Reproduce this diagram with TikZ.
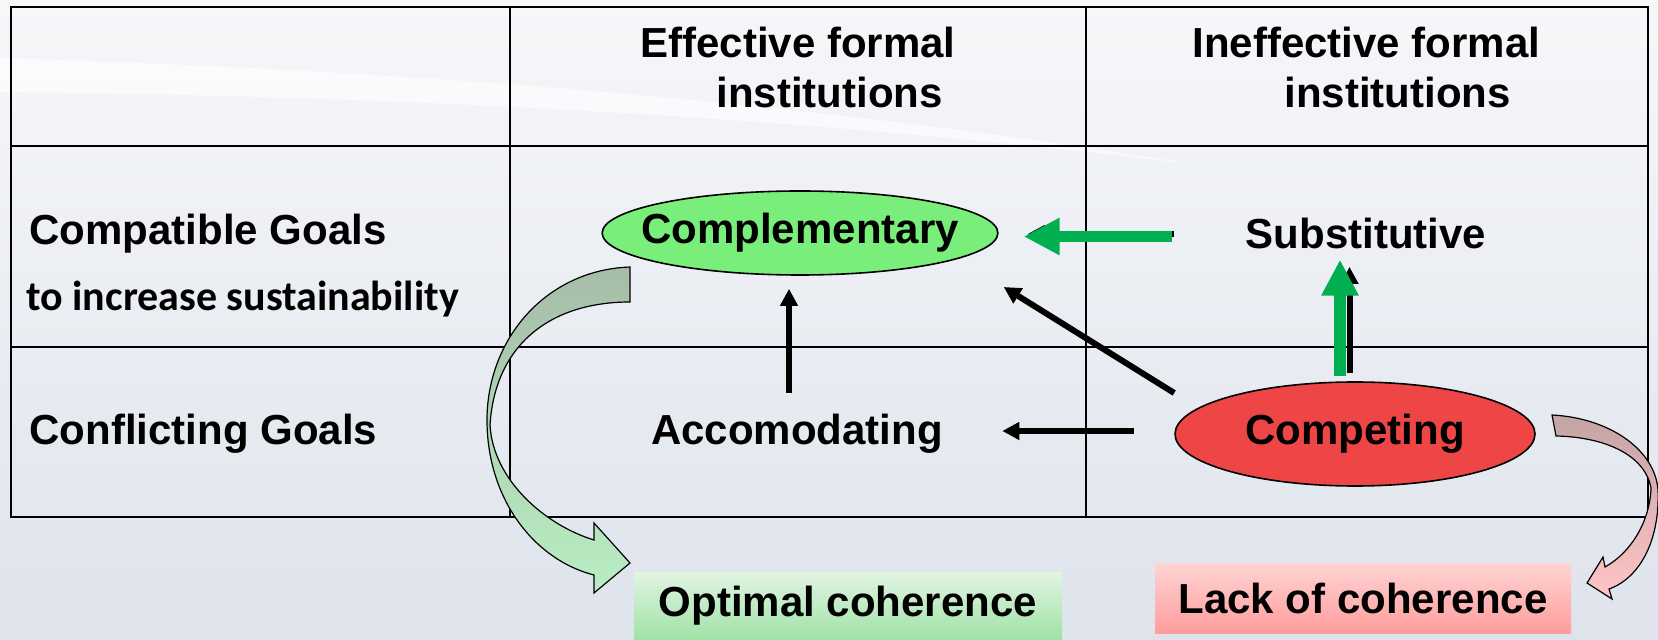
\documentclass[tikz,border=0pt]{standalone}
\usepackage{fontspec}
\setmainfont{Liberation Sans}
\newfontfamily\calibri{Carlito}
\usetikzlibrary{arrows.meta,shapes.geometric}

\definecolor{bgtop}{HTML}{F6F7F9}
\definecolor{bgbot}{HTML}{DEE3EC}
\definecolor{arrowgreen}{HTML}{00B050}
\definecolor{complgreen}{HTML}{7AEE7A}
\definecolor{competred}{HTML}{EE4646}
\definecolor{bendgreentop}{HTML}{A6BCA8}
\definecolor{bendgreenbot}{HTML}{B8EEC2}
\definecolor{bendredtop}{HTML}{C4A4A6}
\definecolor{bendredbot}{HTML}{FFC4C6}
\definecolor{optimaltop}{HTML}{E2F4E2}
\definecolor{optimalbot}{HTML}{9EE2A6}
\definecolor{lacktop}{HTML}{FFD4D4}
\definecolor{lackbot}{HTML}{FF9C9C}

\begin{document}
\begin{tikzpicture}[x=0.5pt,y=-0.5pt,
        every node/.style={font=\fontsize{21}{25}\selectfont\bfseries,inner sep=0pt},
        grid/.style={line width=1.4pt},
        oval/.style={ellipse,draw,line width=0.8pt,inner sep=0pt},
        resultbox/.style={minimum width=#1,minimum height=34pt},
        thin arrow/.style={line width=3pt,-{Triangle[length=8.5pt,width=8.5pt]}},
        thick arrow/.style={draw=arrowgreen,line width=5.9pt,-{Triangle[length=18pt,width=17.5pt]}},
        bend arrow/.style={draw=black,line width=0.6pt}]
\useasboundingbox (0,0) rectangle (1658,640);
\shade[top color=bgtop,bottom color=bgbot] (0,0) rectangle (1658,640);
\fill[white,opacity=0.6] (0,58) .. controls (400,70) and (800,100) .. (1200,165)
    .. controls (800,116) and (400,96) .. (0,92) -- cycle;

% table
\draw[grid] (11,7) rectangle (1648,517);
\draw[grid] (510,7) -- (510,517);
\draw[grid] (1086,7) -- (1086,517);
\draw[grid] (11,146) -- (1648,146);
\draw[grid] (11,347) -- (1648,347);

% headers and row labels
\node[align=left,anchor=north west] (effective) at (640,27) {Effective formal\\\hspace*{38pt}institutions};
\node[align=left,anchor=north west] (ineffective) at (1192,27) {Ineffective formal\\\hspace*{46pt}institutions};
\node[anchor=west] (compatible) at (29,234) {Compatible Goals};
\node[anchor=west,font=\calibri\fontsize{21}{25}\selectfont\bfseries] (sustain) at (26,299) {to increase sustainability};
\node[anchor=west] (conflicting) at (29,434) {Conflicting Goals};

% curved block arrows
\draw[bend arrow,top color=bendgreentop,bottom color=bendgreenbot]
    (630,267) .. controls (545,270) and (487,340) .. (487,420)
    .. controls (487,500) and (535,560) .. (594,575)
    -- (594,593) -- (630,563) -- (594,523) -- (594,540)
    .. controls (545,525) and (493,480) .. (490,425)
    .. controls (495,345) and (550,302) .. (630,302) -- cycle;
\draw[bend arrow,top color=bendredtop,bottom color=bendredbot]
    (1552,415) .. controls (1610,418) and (1655,450) .. (1658,490)
    .. controls (1660,540) and (1640,578) .. (1609,589)
    -- (1612,599) -- (1587,583) -- (1603,557) -- (1605,567)
    .. controls (1632,552) and (1650,520) .. (1651,488)
    .. controls (1645,455) and (1605,437) .. (1556,436) -- cycle;

% cells
\node[oval,fill=complgreen,inner xsep=-9.4pt,minimum height=42pt] (compl) at (800,233) {Complementary};
\node (subst) at (1366,233) {Substitutive};
\node (accom) at (797,434) {Accomodating};
\node[oval,fill=competred,minimum width=180pt,minimum height=52pt] (compet) at (1355,434) {Competing};

% outcomes
\node[resultbox=214pt,top color=optimaltop,bottom color=optimalbot] (optimal) at (848,606) {Optimal coherence};
\node[resultbox=208pt,top color=lacktop,bottom color=lackbot,minimum height=35pt] (lack) at (1363,598) {Lack of coherence};

% arrows
\draw[thin arrow] ([xshift=-35.5pt,yshift=-0.5pt]subst.west) -- ([xshift=14.5pt,yshift=-0.5pt]compl.east);
\draw[thick arrow] ([xshift=-36.5pt,yshift=-1.75pt]subst.west) -- ([xshift=12.5pt,yshift=-1.75pt]compl.east);
\draw[thin arrow] ([xshift=-2.75pt,yshift=4pt]compet.north) -- ([xshift=-8.25pt,yshift=-9pt]subst.south);
\draw[thick arrow] ([xshift=-7.5pt,yshift=2.5pt]compet.north) -- ([xshift=-13pt,yshift=-5.4pt]subst.south);
\draw[thin arrow] ([xshift=-4pt,yshift=10.5pt]accom.north) -- ([xshift=-5.5pt,yshift=-6.5pt]compl.south);
\draw[thin arrow] ([yshift=20.5pt]compet.west) -- ([xshift=2.5pt,yshift=-27pt]compl.east);
\draw[thin arrow] ([xshift=-20pt,yshift=1.5pt]compet.west) -- ([xshift=29.5pt,yshift=1.5pt]accom.east);
\end{tikzpicture}
\end{document}
